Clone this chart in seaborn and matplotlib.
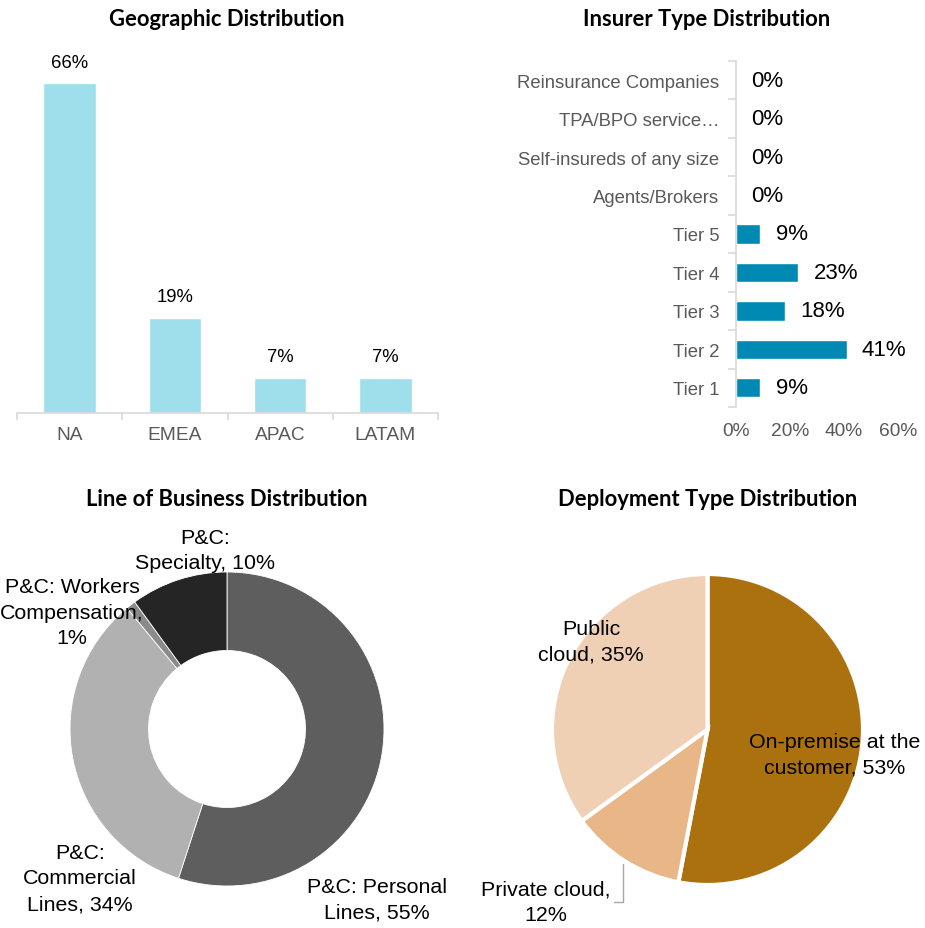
import matplotlib
matplotlib.use("Agg")
import matplotlib.pyplot as plt
import numpy as np
import pandas as pd
import seaborn as sns

# data
geo_regions = ["NA", "EMEA", "APAC", "LATAM"]
geo_share = [66, 19, 7, 7]

insurer_types = ["Reinsurance Companies", "TPA/BPO service\u2026", "Self-insureds of any size",
                 "Agents/Brokers", "Tier 5", "Tier 4", "Tier 3", "Tier 2", "Tier 1"]
insurer_share = [0, 0, 0, 0, 9, 23, 18, 41, 9]

lob_labels = ["P&C: Personal\nLines", "P&C:\nCommercial\nLines", "P&C: Workers\nCompensation",
              "P&C:\nSpecialty"]
lob_share = [55, 34, 1, 10]

deploy_labels = ["On-premise at the\ncustomer", "Private cloud", "Public\ncloud"]
deploy_share = [53, 12, 35]

sns.set_theme(style="white")
plt.rcParams["font.family"] = ["Liberation Sans", "DejaVu Sans"]

W, H = 925, 929
fig = plt.figure(figsize=(W / 100, H / 100), dpi=100)


def px_axes(x0, y0, x1, y1):
    # pixel box (top-left origin) -> figure axes
    return fig.add_axes([x0 / W, 1 - y1 / H, (x1 - x0) / W, (y1 - y0) / H])


def title(x, y, s):
    fig.text(x / W, 1 - y / H, s, ha="center", va="center", fontsize=15.8,
             fontweight="bold", family=["Lato", "DejaVu Sans"], color="black")


GRID = "#d9d9d9"
TICK = "#595959"
FS = 13.3
PIE_FS = 15.4
LS = 1.45

# --- Geographic Distribution ---
ax1 = px_axes(17, 50, 438, 414)
df_geo = pd.DataFrame({"region": geo_regions, "share": geo_share})
sns.barplot(data=df_geo, x="region", y="share", color="#9EDFEB", width=0.5,
            saturation=1, ax=ax1)
ax1.bar_label(ax1.containers[0], labels=[f"{v}%" for v in geo_share],
              padding=9, fontsize=FS, color="black")
ax1.set_xlim(-0.5, len(geo_regions) - 0.5)
ax1.set_ylim(0, 72.8)
ax1.set_yticks([])
ax1.set_xlabel("")
ax1.set_ylabel("")
for s in ["top", "right", "left"]:
    ax1.spines[s].set_visible(False)
ax1.spines["bottom"].set_color(GRID)
ax1.spines["bottom"].set_linewidth(1.2)
ax1.set_xticks(np.arange(-0.5, len(geo_regions)), minor=True)
ax1.tick_params(axis="x", which="major", length=0, pad=9, labelsize=13.8, labelcolor=TICK)
ax1.tick_params(axis="x", which="minor", length=5, width=1.2, color=GRID, bottom=True)
title(227, 20, "Geographic Distribution")

# --- Insurer Type Distribution ---
ax2 = px_axes(736, 62, 898, 408)
df_ins = pd.DataFrame({"type": insurer_types, "share": [v / 100 for v in insurer_share]})
sns.barplot(data=df_ins, x="share", y="type", color="#0089B3", width=0.5,
            saturation=1, orient="h", ax=ax2)
ax2.bar_label(ax2.containers[0], labels=[f"{v}%" for v in insurer_share],
              padding=11, fontsize=16, color="black")
ax2.set_xlim(0, 0.6)
ax2.set_ylim(len(insurer_types) - 0.5, -0.5)
ax2.set_xticks([0, 0.2, 0.4, 0.6])
ax2.set_xticklabels(["0%", "20%", "40%", "60%"])
ax2.set_xlabel("")
ax2.set_ylabel("")
for s in ["top", "right", "bottom"]:
    ax2.spines[s].set_visible(False)
ax2.spines["left"].set_color(GRID)
ax2.spines["left"].set_linewidth(1.2)
ax2.set_yticks(np.arange(-0.5, len(insurer_types)), minor=True)
ax2.tick_params(axis="y", which="major", length=0, pad=12, labelsize=FS, labelcolor=TICK)
ax2.tick_params(axis="y", which="minor", length=6, width=1.2, color=GRID, left=True)
ax2.tick_params(axis="x", which="major", length=0, pad=11, labelsize=13.8, labelcolor=TICK)
title(707, 20, "Insurer Type Distribution")

# --- Line of Business Distribution (donut) ---
R1 = 157
ax3 = px_axes(227 - 227, 730 - 227, 227 + 227, 730 + 227)
lob_colors = ["#5E5E5E", "#B1B1B1", "#8A8A8A", "#252525"]
ax3.pie(lob_share, colors=lob_colors, startangle=90, counterclock=False, radius=1,
        wedgeprops=dict(width=0.5, edgecolor="white", linewidth=0.6))
lim = 227 / R1
ax3.set_xlim(-lim, lim)
ax3.set_ylim(-lim, lim)
ax3.set_aspect("equal")
ax3.axis("off")
lob_text_pos = [(0.955, -1.083), (-0.936, -0.949), (-0.987, 0.745), (-0.14, 1.14)]
lob_sep = [", ", ", ", ",\n", ", "]
for lab, v, sep, (tx, ty) in zip(lob_labels, lob_share, lob_sep, lob_text_pos):
    ax3.text(tx, ty, f"{lab}{sep}{v}%", ha="center", va="center", fontsize=PIE_FS,
             color="black", linespacing=LS)
title(227, 500, "Line of Business Distribution")

# --- Deployment Type Distribution (pie) ---
R2 = 155.5
ax4 = px_axes(707.5 - 217, 730.5 - 217, 707.5 + 217, 730.5 + 217)
deploy_colors = ["#AB710E", "#E8B687", "#F0D0B4"]
ax4.pie(deploy_share, colors=deploy_colors, startangle=90, counterclock=False, radius=1,
        wedgeprops=dict(edgecolor="white", linewidth=3))
lim = 217 / R2
ax4.set_xlim(-lim, lim)
ax4.set_ylim(-lim, lim)
ax4.set_aspect("equal")
ax4.axis("off")
ax4.text(0.82, -0.158, f"{deploy_labels[0]}, {deploy_share[0]}%", ha="center", va="center",
         fontsize=PIE_FS, color="black", linespacing=LS)
ax4.text(-0.75, 0.569, f"{deploy_labels[2]}, {deploy_share[2]}%", ha="center", va="center",
         fontsize=PIE_FS, color="black", linespacing=LS)
ax4.annotate(f"{deploy_labels[1]},\n{deploy_share[1]}%", xy=(-0.542, -0.865),
             xytext=(-1.04, -1.109), ha="center", va="center", fontsize=PIE_FS,
             color="black", linespacing=LS,
             arrowprops=dict(arrowstyle="-", color="#a6a6a6", lw=1,
                             connectionstyle="angle,angleA=0,angleB=90,rad=0",
                             relpos=(1, 0.5), shrinkA=0, shrinkB=0))
title(707.5, 500, "Deployment Type Distribution")

fig.savefig("out.png", dpi=100)
